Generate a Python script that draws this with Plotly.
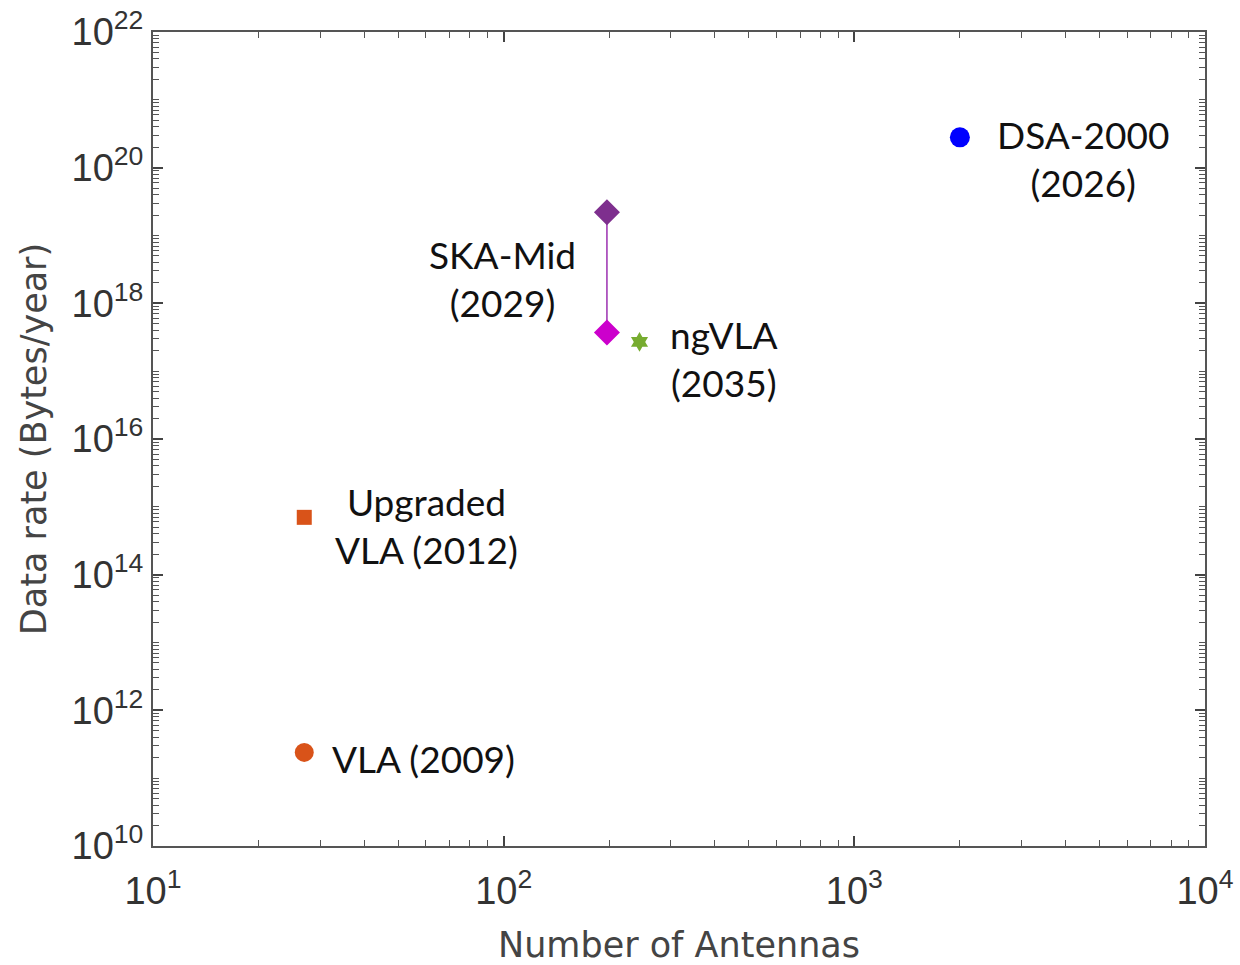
import math
import plotly.graph_objects as go

# Data
names = ["VLA", "Upgraded VLA", "SKA-Mid (high)", "SKA-Mid (low)", "ngVLA", "DSA-2000"]
antennas = [27, 27, 197, 197, 244, 2000]
data_rate = [2.4e11, 7.0e14, 2.2e19, 3.7e17, 2.7e17, 2.8e20]
labels = ["VLA (2009)", "Upgraded<br>VLA (2012)", "SKA-Mid<br>(2029)", None, "ngVLA<br>(2035)", "DSA-2000<br>(2026)"]

x_tickvals = [1e1, 1e2, 1e3, 1e4]
x_ticktext = ["10<sup>1</sup>", "10<sup>2</sup>", "10<sup>3</sup>", "10<sup>4</sup>"]
y_tickvals = [1e10, 1e12, 1e14, 1e16, 1e18, 1e20, 1e22]
y_ticktext = ["10<sup>10</sup>", "10<sup>12</sup>", "10<sup>14</sup>", "10<sup>16</sup>",
              "10<sup>18</sup>", "10<sup>20</sup>", "10<sup>22</sup>"]

colors = ["#D95319", "#D95319", "#7E2F8E", "#CC00CC", "#77AC30", "#0000FF"]
symbols = ["circle", "square", "diamond", "diamond", "hexagram", "circle"]
sizes = [19, 15, 20, 20, 15, 20]

fig = go.Figure()

# SKA-Mid range line
fig.add_trace(go.Scatter(x=[antennas[2], antennas[3]], y=[data_rate[2], data_rate[3]],
                         mode="lines", line=dict(color="#9B30B0", width=1.5),
                         showlegend=False, hoverinfo="skip"))

for i in range(len(names)):
    fig.add_trace(go.Scatter(x=[antennas[i]], y=[data_rate[i]], mode="markers",
                             marker=dict(color=colors[i], symbol=symbols[i], size=sizes[i],
                                         line=dict(width=0)),
                             name=names[i], showlegend=False))

# label placements (pixel offsets from their points)
label_style = {
    0: dict(xshift=26, yshift=-6, xanchor="left", align="left"),
    1: dict(xshift=122, yshift=-8, xanchor="center", align="center"),
    2: dict(xshift=-104, yshift=-66, xanchor="center", align="center"),
    4: dict(xshift=84, yshift=-17, xanchor="center", align="center"),
    5: dict(xshift=123, yshift=-21, xanchor="center", align="center"),
}
for i, st in label_style.items():
    fig.add_annotation(x=math.log10(antennas[i]), y=math.log10(data_rate[i]),
                       text=labels[i], showarrow=False, yanchor="middle",
                       font=dict(family="Lato", size=37, color="#111111"),
                       **st)

axis_common = dict(
    type="log", showgrid=False, zeroline=False, automargin=False,
    showline=True, linecolor="#555555", linewidth=2, mirror="allticks",
    ticks="inside", ticklen=10, tickwidth=1.5, tickcolor="#444444",
    tickfont=dict(family="Liberation Sans, Arial", size=38, color="#333333"),
    title_font=dict(family="DejaVu Sans", size=35, color="#444444"),
    minor=dict(ticks="inside", ticklen=6, tickcolor="#555555", tickwidth=1,
               dtick="D1", showgrid=False),
)

fig.update_xaxes(range=[1, 4], tickmode="array", tickvals=x_tickvals, ticktext=x_ticktext,
                 ticklabelstandoff=10,
                 title_text="Number of Antennas", title_standoff=26, **axis_common)
fig.update_yaxes(range=[10, 22], tickmode="array", tickvals=y_tickvals, ticktext=y_ticktext,
                 title_text="Data rate (Bytes/year)", title_standoff=14, **axis_common)

fig.update_layout(
    width=1240, height=965,
    margin=dict(l=153, r=35, t=32, b=119),
    plot_bgcolor="white", paper_bgcolor="white",
)

fig.write_html("out.html")
